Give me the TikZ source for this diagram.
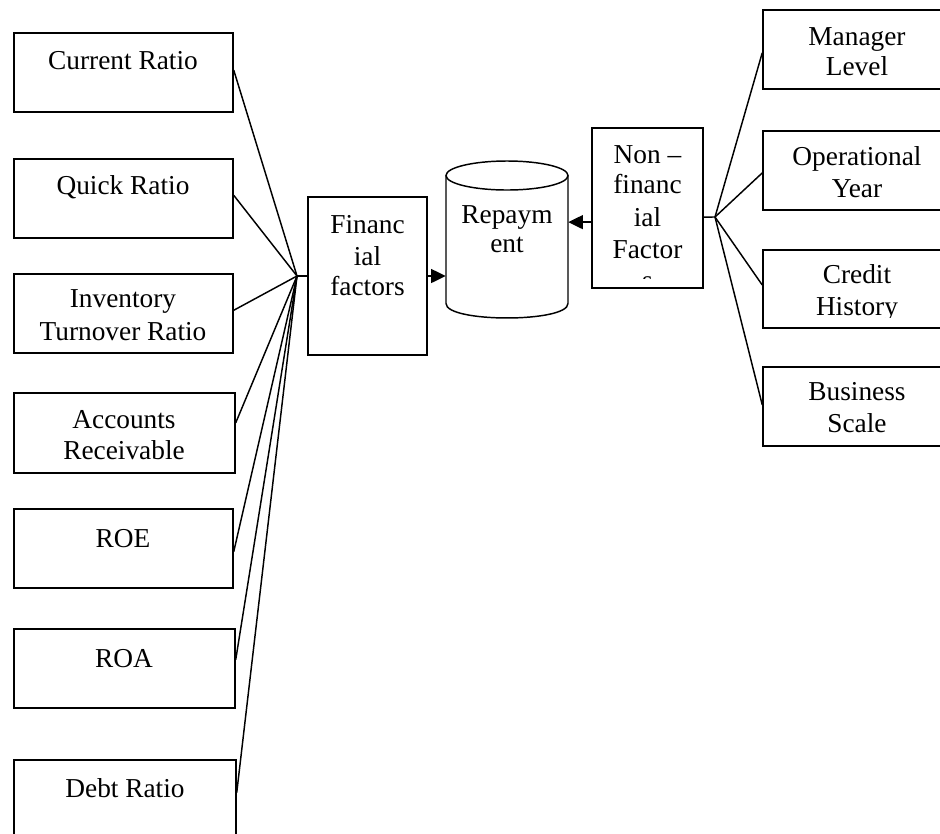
\documentclass[tikz,border=0pt]{standalone}
\usepackage{fontspec}
\setmainfont{Liberation Serif}
\usetikzlibrary{arrows.meta,calc,fit}
\tikzset{
  box/.style={draw, line width=1.1pt, inner sep=0pt, rectangle},
  shell/.style={inner sep=0pt, rectangle},
  lbl/.style={anchor=base, inner sep=0pt, font=\fontsize{20.5}{24}\selectfont},
  link/.style={line width=1.1pt},
  arr/.style={line width=1.1pt, -{Triangle[length=11pt,width=10.5pt]}},
}
\begin{document}
\begin{tikzpicture}[x=0.75pt,y=-0.75pt]
\clip (0,0) rectangle (940,833);

% ---- financial ratio boxes (left column)
\node[box, fit={(14,33) (233,112)}]  (cr)  {};
\node[box, fit={(14,159) (233,238)}] (qr)  {};
\node[box, fit={(14,274) (233,353)}] (itr) {};
\node[box, fit={(14,393) (235,473)}] (ar)  {};
\node[box, fit={(14,509) (233,588)}] (roe) {};
\node[box, fit={(14,629) (235,708)}] (roa) {};
\node[box, fit={(14,760) (236,840)}] (dr)  {};

\node[lbl] (crT)   at (123,69)  {Current Ratio};
\node[lbl] (qrT)   at (123,194) {Quick Ratio};
\node[lbl] (itrT1) at (123,307) {Inventory};
\node[lbl] (itrT2) at (123,340) {Turnover Ratio};
\node[lbl] (arT1)  at (124,428) {Accounts};
\node[lbl] (arT2)  at (124,459) {Receivable};
\node[lbl] (roeT)  at (123,547) {ROE};
\node[lbl] (roaT)  at (124,667) {ROA};
\node[lbl] (drT)   at (125,797) {Debt Ratio};

% ---- central blocks
\node[box, fit={(308,197) (427,355)}] (fin) {};
\node[lbl] (finT1) at (367.5,233) {Financ};
\node[lbl] (finT2) at (367.5,265) {ial};
\node[lbl] (finT3) at (367.5,295) {factors};

% repayment cylinder
\node[shell, fit={(446,161) (568,318)}] (rep) {};
\draw[link] (507,175.5) ellipse [x radius=45.75pt, y radius=10.875pt];
\draw[link] (446,175.5) -- (446,303.5)
  .. controls (446,322.8) and (568,322.8) .. (568,303.5) -- (568,175.5);
\node[lbl] (repT1) at (507,223) {Repaym};
\node[lbl] (repT2) at (507,252) {ent};

% non-financial block, its text cut off at the inner margin
\node[box, fit={(592,128) (703,288)}] (nf) {};
\begin{scope}
  \clip (592,128) rectangle (703,278.5);
  \node[lbl] (nfT1) at (647.5,163) {Non –};
  \node[lbl] (nfT2) at (647.5,193) {financ};
  \node[lbl] (nfT3) at (647.5,226) {ial};
  \node[lbl] (nfT4) at (647.5,258) {Factor};
  \node[lbl] (nfT5) at (647.5,289) {s};
\end{scope}

% ---- non-financial factor boxes (right column)
\node[box, fit={(763,10) (951,89)}]   (ml) {};
\node[box, fit={(763,131) (951,210)}] (oy) {};
\node[box, fit={(763,250) (951,328)}] (ch) {};
\node[box, fit={(763,367) (951,446)}] (bs) {};

\node[lbl] (mlT1) at (857,45)  {Manager};
\node[lbl] (mlT2) at (857,75)  {Level};
\node[lbl] (oyT1) at (857,165) {Operational};
\node[lbl] (oyT2) at (857,197) {Year};
\node[lbl] (chT1) at (857,283) {Credit};
\begin{scope}
  \clip (763,250) rectangle (951,317);
  \node[lbl] (chT2) at (857,315) {History};
\end{scope}
\node[lbl] (bsT1) at (857,400) {Business};
\node[lbl] (bsT2) at (857,432) {Scale};

% ---- connectors
\coordinate (hubL) at (297,276);
\coordinate (hubR) at (715,217);

\foreach \b/\f in {cr/0.47, qr/0.46, itr/0.46, ar/0.375, roe/0.54, roa/0.39, dr/0.41}
  \draw[link] ($(\b.north east)!\f!(\b.south east)$) -- (hubL);
\draw[link] (hubL) -- (hubL -| fin.west);

\foreach \b/\f in {ml/0.54, oy/0.53, ch/0.45, bs/0.48}
  \draw[link] (hubR) -- ($(\b.north west)!\f!(\b.south west)$);
\draw[link] ($(nf.north east)!0.556!(nf.south east)$) -- (hubR);

\draw[arr] (fin.east) -- (fin.east -| rep.west);
\coordinate (nfin) at ($(nf.north west)!0.5875!(nf.south west)$);
\draw[arr] (nfin) -- (nfin -| rep.east);
\end{tikzpicture}
\end{document}
